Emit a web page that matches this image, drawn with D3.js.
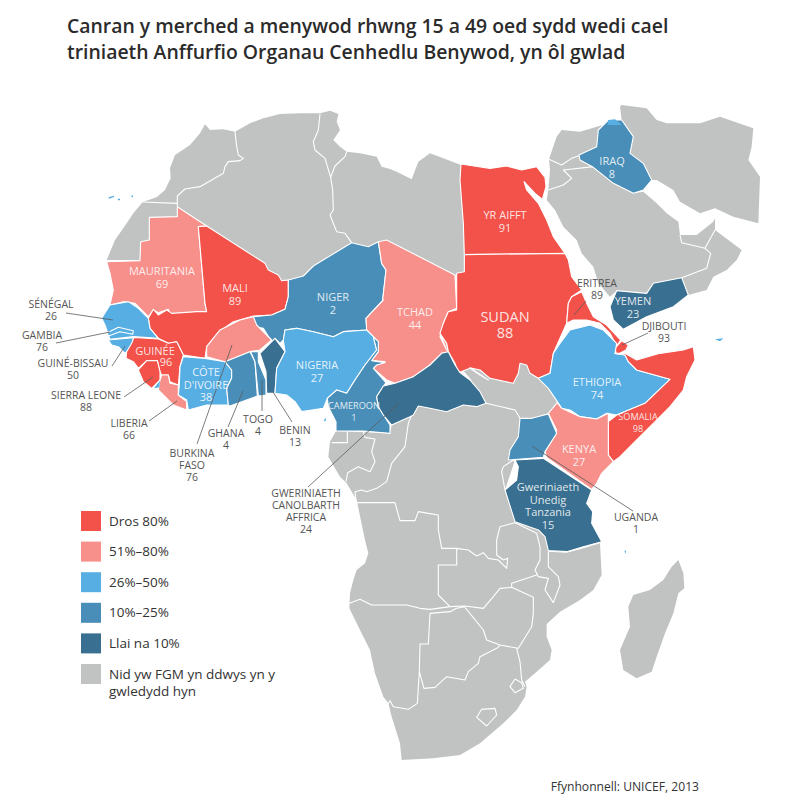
<!DOCTYPE html>
<html lang="cy">
<head>
<meta charset="utf-8">
<title>Anffurfio Organau Cenhedlu Benywod</title>
<style>
html, body { margin: 0; background: #fff; }
svg { display: block; font-family: "Open Sans", sans-serif; }
.land { fill: #c1c2c2; }
.border { fill: none; stroke: #fff; stroke-width: 1.1; stroke-linejoin: round; }
.country { stroke: #fff; stroke-width: 1.1; stroke-linejoin: round; }
.leader { stroke: #5a5a5a; stroke-width: .8; }
.inside { fill: #fff; fill-opacity: .86; font-size: 11px; text-anchor: middle; }
.outside { fill: #555; font-size: 10.5px; text-anchor: middle; }
</style>
</head>
<body>
<div id="chart"></div>
<script src="https://d3js.org/d3.v7.min.js"></script>
<script>
const width = 807, height = 799;

// values
const countryNames = ["Mauritania","Mali","Niger","Egypt","Iraq","Chad","Sudan","Yemen","Eritrea","Djibouti","Ethiopia","Somalia","Kenya","Tanzania","Uganda","Senegal","Gambia","GuineaBissau","Guinea","SierraLeone","Liberia","CoteDIvoire","BurkinaFaso","Ghana","Togo","Benin","Nigeria","Cameroon","CAR"];
const countryValues = [69,89,2,91,8,44,88,23,89,93,74,98,27,15,1,26,76,50,96,88,66,38,76,4,4,13,27,1,24];
const countryBands = [1,0,3,0,3,1,0,4,0,0,2,0,1,4,3,2,2,2,0,0,1,2,1,3,3,4,2,3,4];
const legendLabels = ["Dros 80%","51%–80%","26%–50%","10%–25%","Llai na 10%","Nid yw FGM yn ddwys yn y|gwledydd hyn"];
const bandColours = ["#f2524a","#f78f8b","#57aee3","#488eb8","#396f90","#c1c2c2"];

const at = (ox, oy, f) => d3.range(0, f.length, 2).map(i => [ox + f[i] / 3, oy + f[i + 1] / 3]);
const a = f => at(90, 90, f), b = f => at(380, 90, f), c = f => at(20, 290, f),
      d = f => at(230, 300, f), e = f => at(470, 320, f), g = f => at(340, 480, f);

const landNorth = [...a([50,510,75,450,110,400,130,370,158,336,200,322,225,300,242,265,240,235,255,195,300,165,330,130,345,103,360,120,400,118,435,125,480,100,520,85,570,72,630,70,690,70,720,62,745,72,740,95,750,120,730,150,750,170,770,185,810,190,860,200,875,230,900,237]),
  ...b([50,245,95,268,115,215,150,190,190,205,243,225,240,270,250,400,253,545,225,555,20,450]),
  ...a([835,470,785,458,670,528,640,558,595,570,575,572,565,555,535,540,525,520,350,408,262,350,262,380,178,382,178,450,152,455,150,510])];
const landSouth = [...d([318,393,480,400,485,375,540,350,565,318,600,325,650,335,700,315,740,320,768,310,720,235,700,212]),
  ...e([0,143,30,150,60,175,130,190,145,160,150,130,170,135,180,160,205,175,235,205,262,245,235,280,185,295,150,295,145,350,120,390,115,420,135,420,105,510,135,605,205,630,225,650,235,692]),
  ...g([625,215,680,218,720,208,780,190,785,285,760,330,720,360,660,395,620,432,620,470,635,510,630,540,590,575,555,605,560,620,555,650,530,690,490,730,420,790,360,825,280,835,185,840,180,790,155,710,145,670,130,650,105,580,90,510,60,450,28,385,30,340,40,300,50,270,75,250,85,220,75,180]),
  ...d([380,600,350,550,330,530,295,470,300,425])];
const landMadagascar = g([1015,240,1030,280,1033,325,1015,340,1000,400,975,460,950,530,935,575,890,595,850,570,840,510,870,440,865,380,880,345,930,330,970,300,995,260]);
const landArabia = b([507,208,530,140,545,120,600,125,668,105,655,120,650,170,597,195,600,210,640,232,700,280,760,310,790,305,830,340,860,370,895,395,900,435,950,435,1000,395,1005,385,1005,420,1085,480,1070,510,1040,540,1000,560,980,600,925,615,905,563,820,580,800,610,710,602,690,620,655,580,640,530,605,490,590,450,550,410,525,360,500,330,505,300,510,240]);
const landIran = b([725,45,800,55,830,90,860,100,960,100,1020,80,1120,115,1115,170,1105,210,1140,260,1135,400,1060,380,1005,355,960,370,900,335,880,300,830,270,815,270,790,220,750,190,760,140,725,90,720,50]);
const landParts = [landNorth, landSouth, landMadagascar, landArabia, landIran];

const borderLines = [
  a([435,125,440,170,445,195,460,205,450,212,415,215,405,230,400,250,330,290,285,297,262,318,262,348]),
  a([158,336,262,340]),
  a([690,72,685,120,670,155,675,180,705,205,722,262]),
  a([770,185,765,200,735,228,722,262]),
  a([722,262,728,300,730,360,720,375,740,425,765,430,785,458]),
  b([507,208,545,225,575,205,597,197]),
  b([640,230,550,240,575,265,550,285,505,300]),
  b([900,435,905,458,975,475,1005,420]),
  b([975,475,992,490,980,535,905,563]),
  d([305,428,352,428,352,395]),
  d([400,395,405,412,435,417,425,455,435,485,420,515,385,500,353,518,348,545]),
  d([545,345,535,370,525,440,485,490,470,545,440,565,410,575,395,570,375,575,378,602]),
  g([50,68,165,68,180,122,225,122,235,95,265,100,295,105,295,150,305,205,350,205,350,255,295,255,295,345,330,380]),
  g([350,205,385,210,410,228,430,218,445,235,475,240,500,265,503,235,490,240,470,225,470,180,480,140,525,128]),
  g([525,128,590,160,600,200,600,240,585,270,595,290,625,295,615,330,640,368,660,315,655,290,625,260,625,215]),
  g([590,285,515,310,515,322,480,325,460,350,430,385,375,378,330,380,270,388,240,385,200,375,95,375,60,358,28,370]),
  g([515,322,580,352,580,400,575,440,535,505,480,495,440,480,430,450,375,382]),
  g([270,400,330,395,350,385,375,380]),
  g([270,400,265,492,240,492,238,575,232,670,205,688,160,680,150,662,142,675]),
  g([238,575,252,625,285,622,320,590,375,600,385,575,415,550,420,530,470,505,480,497]),
  g([530,505,540,545,545,600,555,620]),
  g([525,597,545,608,550,625,525,638,510,620,525,597]),
  g([425,688,465,685,470,705,440,738,410,712,425,688]),
  e([100,440,130,420,145,440,140,480,105,510]),
  e([100,440,95,455,105,510]),
  e([48,250,100,262,135,270,150,295])
];

const countryShapes = {
  Mauritania: a([50,515,150,512,152,455,178,450,178,382,262,380,262,350,350,408,325,410,345,640,350,665,240,672,235,658,205,668,190,660,175,680,135,640,100,635,60,645,70,600,60,550]),
  Mali: [...a([325,410,350,408,525,520,535,540,565,555,575,572,595,570,595,620,585,658,545,675,490,678,430,695,400,716]), ...c([600,120,560,170,555,205,490,195,470,155,445,160,415,145,390,115,385,85,400,58,415,75,440,60,455,70,530,65]), ...a([350,665,345,640])],
  Niger: [...a([595,570,640,558,670,528,785,458,835,470,865,455,875,520,888,540,878,630]), ...d([460,0,408,55,410,90,340,95,310,110,250,95,200,85,165,90,160,120,150,130,135,115,125,125,100,85,75,80,70,50]), ...a([545,675,585,658,595,620])],
  Egypt: b([243,222,330,235,380,228,425,240,470,230,495,262,498,290,487,328,465,310,432,275,440,300,475,340,500,390,520,440,555,490,253,494,250,400,240,270]),
  Iraq: b([685,90,725,90,760,140,750,190,790,220,815,270,790,300,760,310,700,280,640,232,600,210,597,195,650,170,655,120]),
  Chad: [...b([20,450,225,555,230,655,205,665,190,700,180,740,200,780]), ...d([630,100,650,130,655,155,635,160,600,195,550,230,495,250,470,240,430,205,440,195,465,185,425,182,445,155,445,125,430,110,410,90,408,55,460,0]), ...a([878,630,888,540,875,520,865,455])],
  Sudan: [...b([253,494,555,490,565,510,575,560,605,600,575,620,565,640,560,700]), ...e([250,100,240,160,205,175,180,160,170,135,150,130,145,160,130,190,60,175,30,150,0,143]), ...d([775,240,750,225,720,205,685,218,675,190,655,155,650,130,630,100,640,70,655,35,680,30,680,0]), ...b([230,655,230,550,253,545])],
  Yemen: b([710,602,800,610,820,580,905,563,925,615,880,650,800,680,730,718,700,690,690,650]),
  Eritrea: b([605,605,620,640,640,680,680,705,722,750,710,768,690,730,660,700,620,690,580,690,560,700,565,640,575,620]),
  Djibouti: b([725,752,745,765,738,780,710,795,705,775]),
  Ethiopia: e([300,30,360,15,400,30,440,70,435,100,465,105,475,125,500,150,600,178,525,250,440,285,410,280,380,297,330,290,300,270,275,265,262,245,235,205,205,175,240,160,250,100,270,70]),
  Somalia: e([435,100,465,100,500,120,570,100,640,90,670,80,675,120,650,170,640,210,600,260,550,310,500,360,450,410,430,425,415,405,415,305,440,285,525,250,600,178,500,150,475,125,465,105]),
  Kenya: e([262,248,275,265,330,290,380,297,415,280,415,405,430,425,395,460,380,490,365,508,230,412,225,395,255,345,260,330,235,280]),
  Tanzania: e([135,420,220,415,365,510,350,550,368,575,365,610,395,665,340,680,290,695,235,692,225,650,205,630,135,605,105,510,140,480,145,440]),
  Uganda: e([150,295,185,295,235,282,260,340,225,395,220,412,115,420,120,390,145,350]),
  Senegal: c([245,85,270,45,325,35,355,55,385,85,390,115,415,145,340,140,270,148,262,125,255,105]),
  Gambia: c([262,128,295,112,340,122,338,133,300,125,265,138]),
  GuineaBissau: c([265,150,340,143,338,165,315,190,295,170,275,165]),
  Guinea: c([342,142,415,147,445,160,470,155,490,195,480,230,475,285,450,275,445,255,425,255,420,245,412,212,380,212,355,235,340,215,318,205,320,185,335,160]),
  SierraLeone: c([380,212,412,212,420,245,420,270,395,295,370,275,355,240]),
  Liberia: c([425,255,445,255,450,280,475,285,475,315,500,335,500,360,460,345,415,300,420,270]),
  CoteDIvoire: c([490,200,555,205,615,215,635,240,635,265,620,295,625,345,560,345,505,360,500,330,475,315,478,285,480,230]),
  BurkinaFaso: c([600,120,660,90,700,80,710,105,755,150,720,180,690,185,615,215,560,200,560,170]),
  Ghana: c([620,295,635,265,635,240,615,215,690,185,705,215,712,318,630,348,625,345]),
  Togo: c([692,185,715,185,715,215,738,270,738,315,715,318,705,215]),
  Benin: d([90,160,135,115,165,155,140,205,135,280,110,280,108,215]),
  Nigeria: d([165,90,200,85,250,95,310,110,340,95,410,90,430,110,440,150,405,195,375,240,350,280,320,270,292,295,280,325,215,335,195,305,170,285,135,280,140,205,165,155,160,120]),
  Cameroon: d([430,110,445,125,445,155,425,182,465,188,440,195,430,205,468,248,440,290,445,320,480,375,480,400,400,393,318,393,318,365,295,320,292,295,320,270,350,280,375,240,405,195,440,150]),
  CAR: d([440,290,460,258,495,250,550,230,600,195,635,160,655,155,675,195,690,218,720,240,750,275,768,310,740,320,700,315,650,335,600,325,565,318,550,345,540,350,485,375,460,345,445,320])
};

// blue specks: islands, the cap on Iraq
const islandParts = [
  a([55,322,72,317,72,321,57,326]), a([83,326,90,326,90,331,84,331]), a([122,320,130,314,128,322]),
  b([1005,748,1030,745,1020,754]), b([685,90,705,88,725,105,682,105]),
  d([281,362,288,352,287,364]), c([402,295,420,272,418,292]), g([853,212,858,212,857,222])
];

// label layout: country, name lines, centre x, first baseline; the value comes from countryValues
const insideLabels = [
  ["Mauritania","MAURITANIA",162,275],["Mali","MALI",235,292],["Niger","NIGER",333,301],["Egypt","YR AIFFT",505,219],["Iraq","IRAQ",612,165],
  ["Chad","TCHAD",415,316],["Yemen","YEMEN",633,305],["Ethiopia","ETHIOPIA",597,386],["Kenya","KENYA",579,453],
  ["Tanzania","Gweriniaeth|Unedig|Tanzania",548,491],["CoteDIvoire","CÔTE|D'IVOIRE",206,376],["Nigeria","NIGERIA",317,369]
];
const outsideLabels = [
  ["Eritrea","ERITREA",597,287],["Djibouti","DJIBOUTI",664,330],["Uganda","UGANDA",636,521],["Senegal","SÉNÉGAL",51,308],["Gambia","GAMBIA",42,339],
  ["GuineaBissau","GUINÉ-BISSAU",73,367],["SierraLeone","SIERRA LEONE",86,399],["Liberia","LIBERIA",129,427],["BurkinaFaso","BURKINA|FASO",192,457],
  ["Ghana","GHANA",226,437],["Togo","TOGO",258,423],["Benin","BENIN",295,434],["CAR","GWERINIAETH|CANOLBARTH|AFFRICA",306,497]
];
const leaderLines = [
  [66,313,113,320],[56,343,110,332],[112,366,125,346],[124,397,153,377],[149,421,177,401],[197,444,232,345],
  [228,427,243,391],[262,411,262,380],[292,422,273,392],[308,487,399,403],[633,511,532,446],[574,315,586,301],[648,333,622,345]
];

const colour = d3.scaleOrdinal().domain(d3.range(6)).range(bandColours);
const geo = d3.geoPath(d3.geoIdentity());
const polygon = ring => ({ type: "Polygon", coordinates: [[...ring, ring[0]]] });
const valueOf = name => countryValues[countryNames.indexOf(name)];

const svg = d3.select("#chart").append("svg").attr("width", width).attr("height", height);

svg.selectAll(".land").data(landParts).join("path")
  .attr("class", "land").attr("d", r => geo(polygon(r)));

svg.append("path").attr("class", "border")
  .attr("d", geo({ type: "MultiLineString", coordinates: borderLines }));

svg.selectAll(".country").data(countryNames).join("path")
  .attr("class", "country")
  .attr("fill", (n, i) => colour(countryBands[i]))
  .attr("d", n => geo(polygon(countryShapes[n])));

svg.selectAll(".island").data(islandParts).join("path")
  .attr("class", "island").attr("fill", colour(2)).attr("d", r => geo(polygon(r)));

svg.selectAll(".leader").data(leaderLines).join("line")
  .attr("class", "leader")
  .attr("x1", l => l[0]).attr("y1", l => l[1]).attr("x2", l => l[2]).attr("y2", l => l[3]);

function addLabels(rows, cls, step) {
  rows.forEach(([key, txt, x, y]) => {
    const t = svg.append("text").attr("class", cls);
    [...txt.split("|"), valueOf(key)].forEach((s, i) => t.append("tspan").attr("x", x).attr("y", y + i * step).text(s));
  });
}
addLabels(insideLabels, "inside", 12.6);
addLabels(outsideLabels, "outside", 12);
addLabels([["Sudan","SUDAN",505,322]], "inside big", 16);
svg.selectAll("text.big").style("font-size", "14.5px");
addLabels([["Somalia","SOMALIA",638,420],["Cameroon","CAMEROON",354,409]], "inside small", 12);
svg.selectAll("text.small").style("font-size", "9.2px");
svg.append("text").attr("class", "inside").attr("x", 155).attr("y", 355).text("GUINÉE");
svg.append("text").attr("class", "inside").attr("x", 166).attr("y", 366).text(valueOf("Guinea"));

// title
svg.append("g").selectAll("text")
  .data(["Canran y merched a menywod rhwng 15 a 49 oed sydd wedi cael", "triniaeth Anffurfio Organau Cenhedlu Benywod, yn ôl gwlad"])
  .join("text")
  .attr("x", 67).attr("y", (s, i) => 33 + i * 26)
  .attr("fill", "#2b2b2b").style("font-size", "19.4px").style("font-weight", 600)
  .text(s => s);

// legend
const legend = svg.append("g").selectAll("g").data(legendLabels).join("g")
  .attr("transform", (s, i) => `translate(81,${511 + i * 30.6})`);
legend.append("rect").attr("width", 20).attr("height", 20).attr("fill", (s, i) => bandColours[i]);
legend.each(function(s) {
  d3.select(this).selectAll("text").data(s.split("|")).join("text")
    .attr("x", 28).attr("y", (t, i) => 14.5 + i * 17)
    .attr("fill", "#333").style("font-size", "13.5px").text(t => t);
});

svg.append("text").attr("x", 699).attr("y", 791).attr("text-anchor", "end")
  .attr("fill", "#333").style("font-size", "12.1px").text("Ffynhonnell: UNICEF, 2013");
</script>
</body>
</html>
